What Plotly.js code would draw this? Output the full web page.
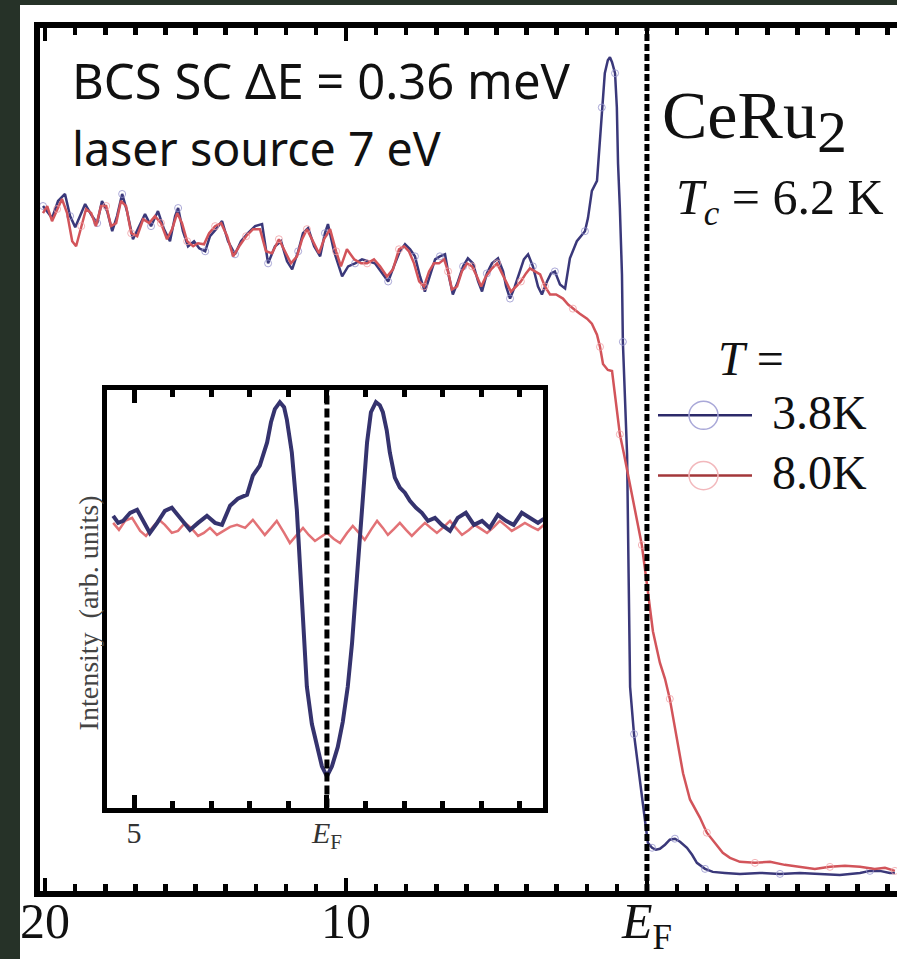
<!DOCTYPE html>
<html>
<head>
<meta charset="utf-8">
<script src="https://cdn.plot.ly/plotly-3.0.1.min.js"></script>
<style>
  html, body { margin: 0; padding: 0; width: 897px; height: 959px; overflow: hidden; background: #263228; }
  #chart { position: absolute; left: 20px; top: 5px; width: 877px; height: 954px; }
</style>
</head>
<body>
<div id="chart"></div>
<script>
// ---------- main panel: energy (arb. scale, E_F = 0) ----------
const blueE = [20.07,19.90,19.77,19.57,19.34,19.17,19.00,18.84,18.67,18.44,18.27,18.11,17.94,17.77,17.61,17.44,17.28,17.08,16.88,16.68,16.48,16.25,16.05,15.85,15.68,15.58,15.42,15.25,15.05,14.88,14.68,14.52,14.32,14.12,13.92,13.69,13.49,13.26,13.02,12.79,12.59,12.36,12.16,11.96,11.79,11.59,11.43,11.26,11.06,10.86,10.70,10.60,10.40,10.13,9.93,9.70,9.47,9.27,9.04,8.84,8.60,8.41,8.21,8.04,7.87,7.71,7.54,7.38,7.21,7.04,6.88,6.71,6.58,6.45,6.28,6.11,5.95,5.78,5.61,5.48,5.32,5.15,4.95,4.78,4.68,4.55,4.39,4.22,4.09,3.95,3.79,3.62,3.49,3.32,3.19,3.06,2.89,2.72,2.56,2.33,2.06,1.96,1.83,1.66,1.59,1.50,1.40,1.30,1.23,1.16,1.06,1.00,0.96,0.90,0.83,0.80,0.73,0.66,0.61,0.56,0.43,0.30,0.17,0.07,-0.03,-0.17,-0.30,-0.43,-0.60,-0.76,-0.93,-1.10,-1.33,-1.50,-1.66,-1.93,-2.19,-2.59,-3.09,-3.75,-4.42,-5.08,-5.75,-6.41,-7.08,-7.41,-7.74,-8.07,-8.24];
const blueI = [68.3,67.6,67.1,68.8,69.5,67.3,66.2,67.3,68.5,67.3,66.6,68.8,67.8,65.8,67.3,69.5,67.8,65.0,66.3,67.5,66.3,67.8,66.0,64.8,67.3,68.1,65.8,64.3,64.8,64.1,63.8,65.3,66.0,66.8,64.8,63.5,64.8,65.6,66.3,66.5,62.6,64.3,64.8,62.8,62.0,63.8,65.6,66.1,64.3,63.3,65.6,66.5,63.8,61.3,62.3,62.6,63.0,62.8,62.6,61.8,60.8,62.3,63.8,64.5,64.0,63.3,61.3,59.8,61.3,63.0,63.3,63.5,61.3,59.5,60.8,62.3,63.1,62.6,60.8,59.8,61.6,62.6,63.1,61.8,60.3,59.1,60.3,61.8,63.0,63.5,62.3,60.3,59.5,60.8,61.6,61.8,60.5,60.1,63.1,64.8,65.8,67.1,69.8,70.8,73.8,78.1,81.5,82.8,83.1,82.6,81.5,78.1,72.5,68.1,61.5,54.8,48.8,43.6,31.8,20.5,15.8,12.7,9.5,6.8,5.0,4.5,4.3,4.4,4.8,5.3,5.4,5.1,4.5,3.8,3.0,2.4,2.1,2.0,1.9,2.0,1.9,2.0,1.9,1.8,2.0,2.2,2.2,2.0,2.0];

const redE = [20.07,19.93,19.77,19.60,19.44,19.27,19.10,18.97,18.80,18.64,18.47,18.31,18.14,17.97,17.81,17.64,17.48,17.31,17.14,16.94,16.74,16.54,16.35,16.15,15.95,15.78,15.61,15.45,15.28,15.08,14.92,14.72,14.55,14.35,14.15,13.95,13.75,13.55,13.32,13.09,12.86,12.66,12.46,12.23,12.03,11.83,11.63,11.46,11.30,11.10,10.90,10.73,10.53,10.33,10.17,9.97,9.73,9.50,9.30,9.07,8.87,8.64,8.44,8.24,8.07,7.91,7.74,7.57,7.41,7.24,7.08,6.91,6.74,6.61,6.48,6.31,6.15,5.98,5.81,5.65,5.51,5.35,5.18,4.98,4.82,4.65,4.52,4.35,4.19,4.02,3.89,3.72,3.55,3.39,3.22,3.02,2.79,2.62,2.46,2.23,1.99,1.83,1.66,1.56,1.46,1.30,1.16,1.03,0.90,0.76,0.66,0.47,0.33,0.17,0.00,-0.20,-0.43,-0.60,-0.76,-1.00,-1.20,-1.43,-1.76,-1.99,-2.19,-2.52,-2.76,-3.09,-3.59,-4.09,-4.58,-5.08,-5.58,-6.08,-6.58,-7.08,-7.57,-7.91,-8.24];
const redI = [67.6,68.3,66.8,68.0,69.0,67.6,64.8,64.3,66.3,68.0,67.6,66.3,68.3,68.3,66.3,66.6,68.8,68.3,65.6,65.3,67.0,66.6,67.3,66.6,65.0,66.0,67.6,66.6,64.8,64.3,64.6,64.5,65.6,66.3,66.6,65.3,63.3,64.3,65.3,66.0,66.0,63.8,63.6,65.0,63.8,62.6,63.3,65.0,66.0,64.8,63.6,65.0,66.0,63.8,62.3,64.0,63.0,62.6,62.6,63.0,62.3,61.3,62.0,64.0,64.3,63.8,62.6,60.8,60.3,61.8,62.6,62.6,63.0,61.8,60.0,60.3,61.8,62.6,62.3,61.3,60.3,61.3,62.0,62.6,61.6,60.6,59.8,60.3,60.8,61.6,62.1,61.8,61.5,60.3,59.5,59.5,59.1,58.5,58.1,57.6,57.1,56.6,55.5,54.3,52.6,52.0,51.9,49.0,45.6,43.6,42.1,38.9,37.0,34.6,30.7,26.0,22.9,21.3,19.3,15.4,11.9,9.3,7.5,6.0,5.2,4.0,3.5,3.1,3.0,3.1,2.8,2.6,2.4,2.6,2.7,2.6,2.4,2.5,2.2];

// ---------- inset: symmetrized spectra ----------
const insetBlueE = [5.54,5.41,5.28,5.10,4.92,4.77,4.59,4.40,4.20,4.02,3.81,3.55,3.34,3.11,2.90,2.72,2.51,2.31,2.07,1.92,1.74,1.63,1.55,1.45,1.35,1.22,1.11,1.04,0.91,0.78,0.70,0.62,0.52,0.39,0.26,0.13,0,-0.13,-0.28,-0.41,-0.54,-0.65,-0.78,-0.91,-1.04,-1.14,-1.27,-1.37,-1.45,-1.55,-1.63,-1.76,-1.89,-2.02,-2.15,-2.31,-2.46,-2.62,-2.80,-2.98,-3.19,-3.39,-3.60,-3.81,-4.02,-4.22,-4.43,-4.64,-4.84,-5.05,-5.26,-5.47,-5.62];
const insetBlueI = [58.6,57.2,57.6,59.2,59.8,57.6,55.2,57.2,59.6,60.2,58.2,55.8,57.2,58.6,57.2,56.8,60.6,62.0,62.8,66.6,68.6,71.2,73.2,77.2,79.8,81.2,80.2,77.8,71.2,59.8,49.2,37.2,24.6,17.2,12.6,8.8,6.8,8.8,12.6,17.6,24.6,33.2,46.6,59.8,73.2,79.2,81.2,80.6,79.2,75.6,71.2,66.2,64.2,63.2,61.6,60.2,59.2,57.6,58.2,56.8,55.6,58.2,59.2,56.8,57.6,56.2,58.8,57.6,56.8,59.2,58.2,57.2,58.0];
const insetRedE = [5.54,5.39,5.23,5.05,4.84,4.69,4.53,4.35,4.20,4.02,3.86,3.68,3.52,3.34,3.19,3.03,2.85,2.67,2.51,2.33,2.12,1.92,1.76,1.61,1.45,1.30,1.11,0.96,0.78,0.62,0.47,0.31,0.16,0,-0.18,-0.34,-0.52,-0.67,-0.83,-0.98,-1.14,-1.30,-1.45,-1.58,-1.74,-1.89,-2.05,-2.20,-2.38,-2.54,-2.69,-2.85,-3.03,-3.19,-3.34,-3.50,-3.68,-3.83,-3.99,-4.15,-4.33,-4.48,-4.64,-4.79,-4.97,-5.13,-5.31,-5.47,-5.62];
const insetRedI = [57.2,55.8,57.6,58.2,55.6,54.6,56.2,57.8,56.8,55.2,55.6,57.2,56.2,54.6,55.2,56.2,54.8,55.6,56.4,56.8,56.2,57.8,56.2,54.8,56.2,57.6,55.2,53.2,54.8,56.2,54.8,53.6,54.4,55.2,54.0,53.2,55.2,56.6,55.2,53.8,55.8,57.6,56.2,54.8,56.0,57.2,55.8,54.6,56.0,57.2,56.2,55.2,56.4,57.6,56.2,54.8,55.8,56.8,56.0,55.2,56.4,57.6,56.6,55.6,56.4,57.2,56.4,55.8,56.8];

// ---------- tick labels & series names ----------
const mainLabelVals = [20, 10, 0];
const mainLabelText = ['20', '10', '<i>E</i><sub>F</sub>'];
const mainLongTickVals = [15, 5, -5];
const insetLabelVals = [5, 0];
const insetLabelText = ['5', '<i>E</i><sub>F</sub>'];
const insetLongTickVals = [-5];
const seriesNames = ['3.8K', '8.0K'];

// ---------- styles ----------
const BLUE = '#3a387a';
const RED = '#d2545a';
const SERIF = 'Liberation Serif, Times New Roman, serif';
const SANS = 'Noto Sans, Open Sans, sans-serif';

// pixel helpers for layout decorations (plot area: x 40..897, y 28..886 in page px)
const PX0 = 40, PW = 857, PY0 = 886, PH = 858;
const px = p => (p - PX0) / PW;
const py = p => (PY0 - p) / PH;

const MAIN_RANGE = [20.17, -8.31];
const INSET_RANGE = [5.70, -5.60];

const traces = [
  { x: blueE, y: blueI, name: seriesNames[0], type: 'scatter', mode: 'lines+markers',
    line: { color: BLUE, width: 2.5 },
    marker: { symbol: 'circle-open', size: 7, color: 'rgba(150,148,205,0.8)', line: { width: 1 }, maxdisplayed: 30 },
    xaxis: 'x', yaxis: 'y', showlegend: false },
  { x: redE, y: redI, name: seriesNames[1], type: 'scatter', mode: 'lines+markers',
    line: { color: RED, width: 2.5 },
    marker: { symbol: 'circle-open', size: 7, color: 'rgba(240,160,165,0.8)', line: { width: 1 }, maxdisplayed: 30 },
    xaxis: 'x', yaxis: 'y', showlegend: false },
  { x: insetRedE, y: insetRedI, name: seriesNames[1] + ' (inset)', type: 'scatter', mode: 'lines',
    line: { color: '#e27276', width: 2.5 }, xaxis: 'x2', yaxis: 'y2', showlegend: false },
  { x: insetBlueE, y: insetBlueI, name: seriesNames[0] + ' (inset)', type: 'scatter', mode: 'lines',
    line: { color: '#35336e', width: 4 }, xaxis: 'x2', yaxis: 'y2', showlegend: false }
];

const tickStyle = (len, w) => ({ ticks: 'inside', ticklen: len, tickwidth: w, tickcolor: '#000' });

const layout = {
  width: 877, height: 954,
  margin: { l: 20, r: 0, t: 23, b: 68, pad: 0 },
  paper_bgcolor: '#ffffff', plot_bgcolor: '#ffffff',
  showlegend: false,
  font: { family: SERIF, color: '#111' },
  xaxis: Object.assign({
    domain: [0, 1], range: MAIN_RANGE, anchor: 'y',
    showline: true, linewidth: 6, linecolor: '#000', mirror: 'ticks',
    showgrid: false, zeroline: false,
    tickmode: 'array', tickvals: mainLabelVals, ticktext: mainLabelText,
    minor: { tickmode: 'linear', tick0: 0, dtick: 1, ticks: 'inside', ticklen: 7, tickwidth: 4.5, tickcolor: '#000', showgrid: false },
    tickfont: { family: SERIF, size: 50, color: '#111' },
    ticklabelstandoff: -19
  }, tickStyle(13, 4.5)),
  xaxis3: Object.assign({
    overlaying: 'x', range: MAIN_RANGE, anchor: 'y',
    showline: false, mirror: 'ticks', showgrid: false, zeroline: false,
    tickmode: 'array', tickvals: mainLongTickVals, showticklabels: false
  }, tickStyle(13, 4.5)),
  yaxis: {
    domain: [0, 1], range: [0.2, 86.0], anchor: 'x',
    showline: true, linewidth: 6, linecolor: '#000', mirror: false,
    showgrid: false, zeroline: false, showticklabels: false, ticks: ''
  },
  xaxis2: Object.assign({
    domain: [px(107), px(543)], range: INSET_RANGE, anchor: 'y2',
    showline: true, linewidth: 5, linecolor: '#000', mirror: 'ticks',
    showgrid: false, zeroline: false,
    tickmode: 'array', tickvals: insetLabelVals, ticktext: insetLabelText,
    minor: { tickmode: 'linear', tick0: 0, dtick: 1, ticks: 'inside', ticklen: 7, tickwidth: 5, tickcolor: '#000', showgrid: false },
    tickfont: { family: SERIF, size: 30, color: '#333' },
    ticklabelstandoff: -6
  }, tickStyle(13, 5)),
  xaxis4: Object.assign({
    overlaying: 'x2', range: INSET_RANGE, anchor: 'y2',
    showline: false, mirror: 'ticks', showgrid: false, zeroline: false,
    tickmode: 'array', tickvals: insetLongTickVals, showticklabels: false
  }, tickStyle(13, 5)),
  yaxis2: {
    domain: [py(803), py(388)], range: [0.6, 83.6], anchor: 'x2',
    showline: true, linewidth: 5, linecolor: '#000', mirror: true,
    showgrid: false, zeroline: false, showticklabels: false, ticks: ''
  },
  shapes: [
    // E_F markers
    { type: 'line', xref: 'x', yref: 'paper', x0: 0, x1: 0, y0: 0, y1: 1,
      line: { color: '#000', width: 5, dash: '7px,3px' } },
    { type: 'line', xref: 'x2', yref: 'paper', x0: 0, x1: 0, y0: py(803), y1: py(388),
      line: { color: '#000', width: 5, dash: '9px,4px' } },
    // legend symbols
    { type: 'line', xref: 'paper', yref: 'paper', x0: px(658), x1: px(752), y0: py(413), y1: py(413),
      line: { color: '#2c2a6a', width: 2.5 } },
    { type: 'circle', xref: 'paper', yref: 'paper', x0: px(689), x1: px(718), y0: py(427), y1: py(399),
      line: { color: '#a9a8d8', width: 1.5 } },
    { type: 'line', xref: 'paper', yref: 'paper', x0: px(658), x1: px(752), y0: py(473), y1: py(473),
      line: { color: '#a3373a', width: 2.5 } },
    { type: 'circle', xref: 'paper', yref: 'paper', x0: px(689), x1: px(718), y0: py(487), y1: py(459),
      line: { color: '#f2b8bc', width: 1.5 } }
  ],
  annotations: [
    { xref: 'paper', yref: 'paper', x: px(70), y: py(80), xanchor: 'left', yanchor: 'middle', showarrow: false,
      text: 'BCS SC ΔE = 0.36 meV', font: { family: SANS, size: 49, color: '#111' } },
    { xref: 'paper', yref: 'paper', x: px(70), y: py(147), xanchor: 'left', yanchor: 'middle', showarrow: false,
      text: 'laser source 7 eV', font: { family: SANS, size: 46.5, color: '#111' } },
    { xref: 'paper', yref: 'paper', x: px(660), y: py(120), xanchor: 'left', yanchor: 'middle', showarrow: false,
      text: 'CeRu<sub><span style="font-size:60px">2</span></sub>', font: { family: SERIF, size: 68, color: '#111' } },
    { xref: 'paper', yref: 'paper', x: px(674), y: py(200), xanchor: 'left', yanchor: 'middle', showarrow: false,
      text: '<i>T</i><sub><i>c</i></sub> = 6.2 K', font: { family: SERIF, size: 50, color: '#111' } },
    { xref: 'paper', yref: 'paper', x: px(716), y: py(357), xanchor: 'left', yanchor: 'middle', showarrow: false,
      text: '<i>T</i> =', font: { family: SERIF, size: 48, color: '#111' } },
    { xref: 'paper', yref: 'paper', x: px(770), y: py(410), xanchor: 'left', yanchor: 'middle', showarrow: false,
      text: seriesNames[0], font: { family: SERIF, size: 48, color: '#111' } },
    { xref: 'paper', yref: 'paper', x: px(770), y: py(470), xanchor: 'left', yanchor: 'middle', showarrow: false,
      text: seriesNames[1], font: { family: SERIF, size: 48, color: '#111' } },
    { xref: 'paper', yref: 'paper', x: px(88), y: py(610), xanchor: 'center', yanchor: 'middle', showarrow: false,
      textangle: -90, text: 'Intensity  (arb. units)', font: { family: SERIF, size: 28, color: '#444' } }
  ]
};

Plotly.newPlot('chart', traces, layout, { staticPlot: true, displayModeBar: false }).then(gd => {
  // drop placeholder text nodes Plotly leaves for unused titles
  gd.querySelectorAll('text').forEach(t => { if (!t.textContent.trim()) t.remove(); });
});
</script>
</body>
</html>
